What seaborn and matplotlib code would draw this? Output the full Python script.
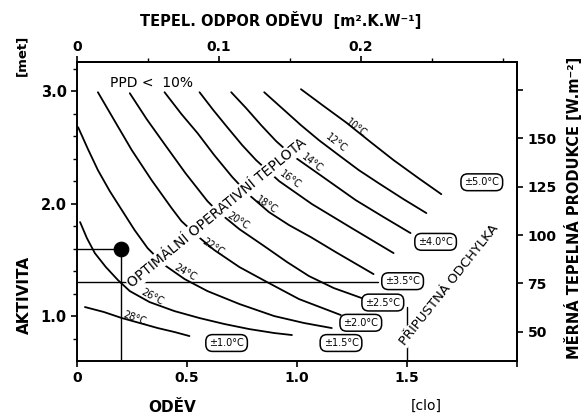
import matplotlib
matplotlib.use("Agg")
import matplotlib.pyplot as plt
from matplotlib.ticker import FixedLocator
import pandas as pd
import seaborn as sns

# ---- data (clothing [clo], activity [met]) ----
c10_clo = [1.018, 1.122, 1.222, 1.335, 1.439, 1.552, 1.656]
c10_met = [3.018, 2.867, 2.724, 2.547, 2.387, 2.227, 2.084]
c12_clo = [0.851, 0.932, 1.018, 1.100, 1.190, 1.281, 1.371, 1.484, 1.588]
c12_met = [2.991, 2.849, 2.698, 2.564, 2.431, 2.298, 2.182, 2.040, 1.916]
c14_clo = [0.701, 0.769, 0.837, 0.905, 0.977, 1.100, 1.267, 1.394, 1.516]
c14_met = [2.991, 2.849, 2.698, 2.556, 2.431, 2.262, 2.031, 1.880, 1.738]
c16_clo = [0.557, 0.620, 0.683, 0.751, 0.814, 0.919, 1.068, 1.249, 1.439]
c16_met = [2.991, 2.831, 2.680, 2.520, 2.387, 2.200, 1.996, 1.782, 1.560]
c18_clo = [0.398, 0.475, 0.548, 0.624, 0.706, 0.783, 0.873, 0.964, 1.063, 1.176, 1.348]
c18_met = [2.991, 2.796, 2.627, 2.431, 2.236, 2.076, 1.924, 1.809, 1.702, 1.569, 1.373]
c20_clo = [0.240, 0.317, 0.398, 0.493, 0.593, 0.638, 0.738, 0.851, 0.955, 1.054, 1.167, 1.294]
c20_met = [2.982, 2.751, 2.529, 2.271, 2.022, 1.933, 1.773, 1.622, 1.480, 1.356, 1.249, 1.160]
c22_clo = [0.095, 0.172, 0.249, 0.339, 0.430, 0.475, 0.548, 0.624, 0.738, 0.864, 1.009, 1.199]
c22_met = [2.991, 2.733, 2.476, 2.209, 1.960, 1.844, 1.711, 1.587, 1.436, 1.302, 1.151, 1.009]
c24_clo = [0.005, 0.050, 0.095, 0.149, 0.204, 0.262, 0.321, 0.398, 0.489, 0.593, 0.738,
           0.896, 1.032, 1.158]
c24_met = [2.680, 2.484, 2.298, 2.111, 1.942, 1.764, 1.604, 1.453, 1.329, 1.222, 1.107,
           1.000, 0.938, 0.893]
c26_clo = [0.014, 0.045, 0.081, 0.131, 0.186, 0.240, 0.330, 0.443, 0.557, 0.670, 0.783,
           0.896, 0.977]
c26_met = [1.836, 1.693, 1.560, 1.436, 1.320, 1.222, 1.124, 1.044, 0.982, 0.929, 0.884,
           0.849, 0.831]
c28_clo = [0.036, 0.122, 0.204, 0.285, 0.367, 0.443, 0.511]
c28_met = [1.080, 1.036, 0.982, 0.938, 0.893, 0.858, 0.822]

curve_temps = ["10", "12", "14", "16", "18", "20", "22", "24", "26", "28"]
curve_clo = [c10_clo, c12_clo, c14_clo, c16_clo, c18_clo, c20_clo, c22_clo, c24_clo, c26_clo, c28_clo]
curve_met = [c10_met, c12_met, c14_met, c16_met, c18_met, c20_met, c22_met, c24_met, c26_met, c28_met]

# curve label positions
label_clo = [1.27, 1.18, 1.07, 0.97, 0.86, 0.73, 0.62, 0.49, 0.34, 0.26]
label_met = [2.67, 2.54, 2.36, 2.21, 1.99, 1.85, 1.61, 1.39, 1.17, 0.98]
label_rot = [-38, -38, -38, -36, -33, -32, -33, -30, -28, -20]

# permissible deviation bubbles
tol_text = ["±1.0°C", "±1.5°C", "±2.0°C", "±2.5°C", "±3.5°C", "±4.0°C", "±5.0°C"]
tol_clo = [0.68, 1.20, 1.29, 1.39, 1.48, 1.63, 1.84]
tol_met = [0.76, 0.76, 0.94, 1.12, 1.31, 1.66, 2.19]

# example reading
point_clo = [0.2]
point_met = [1.6]
ref_met_line = 1.3
ref_clo_line = 1.5

x_ticks = [0, 0.5, 1.0, 1.5, 2.0]
x_ticklabels = ["0", "0.5", "1.0", "1.5", ""]
y_ticks = [1.0, 2.0, 3.0]
y_ticklabels = ["1.0", "2.0", "3.0"]
y_minor = [0.8, 1.2, 1.4, 1.6, 1.8, 2.2, 2.4, 2.6, 2.8, 3.2]
top_ticks = [0, 0.1, 0.2]
top_ticklabels = ["0", "0.1", "0.2"]
top_minor = [0.05, 0.15, 0.25, 0.3]
right_ticks = [50, 75, 100, 125, 150]
right_minor = [175]

CLO_TO_M2KW = 0.155
MET_TO_WM2 = 58.15

# ---- build table ----
rows = []
for t, xs, ys in zip(curve_temps, curve_clo, curve_met):
    for i, (x, y) in enumerate(zip(xs, ys)):
        rows.append({"curve": t, "order": i, "clo": x, "met": y})
df = pd.DataFrame(rows)

sns.set_theme(style="ticks", rc={
    "axes.edgecolor": "black", "axes.linewidth": 1.4,
    "text.color": "black", "axes.labelcolor": "black",
    "xtick.color": "black", "ytick.color": "black",
    "xtick.labelcolor": "black", "ytick.labelcolor": "black",
    "xtick.major.width": 1.2, "ytick.major.width": 1.2,
    "xtick.minor.width": 1.0, "ytick.minor.width": 1.0,
    "xtick.major.size": 4, "ytick.major.size": 4,
    "xtick.minor.size": 3, "ytick.minor.size": 3,
})
plt.rcParams["font.family"] = ["DejaVu Sans"]

fig = plt.figure(figsize=(5.85, 4.17), dpi=100)
fig.patch.set_facecolor("white")
ax = fig.add_axes([77 / 585, 1 - 361 / 417, 440 / 585, 299 / 417])

sns.lineplot(data=df, x="clo", y="met", units="curve", estimator=None, sort=False,
             color="black", lw=1.3, ax=ax, zorder=2)

# reference lines
ax.plot([0, point_clo[0]], [point_met[0], point_met[0]], color="black", lw=1.0, zorder=2)
ax.plot([point_clo[0], point_clo[0]], [0.6, point_met[0]], color="black", lw=1.0, zorder=2)
ax.plot([0, 1.37], [ref_met_line, ref_met_line], color="black", lw=1.0, zorder=2)
ax.plot([ref_clo_line, ref_clo_line], [0.6, 1.08], color="black", lw=1.0, zorder=2)
sns.scatterplot(x=point_clo, y=point_met, s=110, color="black", edgecolor="black", ax=ax, zorder=5)

# curve labels
for t, x, y, r in zip(curve_temps, label_clo, label_met, label_rot):
    ax.text(x, y, f"{t}°C", rotation=r, rotation_mode="anchor", ha="center", va="center",
            fontsize=7, zorder=4)

# tolerance bubbles
for s, x, y in zip(tol_text, tol_clo, tol_met):
    ax.text(x, y, s, ha="center", va="center", fontsize=7, zorder=6,
            bbox=dict(boxstyle="round,pad=0.35,rounding_size=0.7", fc="white", ec="black", lw=1.1))

# diagonal texts
ax.text(0.638, 1.92, "OPTIMÁLNÍ OPERATIVNÍ TEPLOTA", rotation=39.4, rotation_mode="anchor",
        ha="center", va="center", fontsize=10, zorder=4,
        bbox=dict(fc="white", ec="none", pad=1.0))
ax.text(1.69, 1.28, "PŘÍPUSTNÁ ODCHYLKA", rotation=51.5, rotation_mode="anchor",
        ha="center", va="center", fontsize=9.5, zorder=4,
        bbox=dict(fc="white", ec="none", pad=0.5))
ax.text(0.34, 3.07, "PPD <  10%", ha="center", va="center", fontsize=10)

ax.set_xlim(0, 1.99)
ax.set_ylim(0.6, 3.26)
ax.set_xlabel("")
ax.set_ylabel("")
ax.set_xticks(x_ticks)
ax.set_xticklabels(x_ticklabels, fontsize=10, fontweight="bold")
ax.set_yticks(y_ticks)
ax.set_yticklabels(y_ticklabels, fontsize=10.5, fontweight="bold")
ax.yaxis.set_minor_locator(FixedLocator(y_minor))
for s in ax.spines.values():
    s.set_visible(True)
    s.set_linewidth(1.4)
    s.set_color("black")

secx = ax.secondary_xaxis("top", functions=(lambda c: c * CLO_TO_M2KW, lambda r: r / CLO_TO_M2KW))
secx.set_xticks(top_ticks)
secx.set_xticklabels(top_ticklabels, fontsize=10, fontweight="bold")
secx.xaxis.set_minor_locator(FixedLocator(top_minor))
secx.tick_params(which="major", length=4, width=1.2, pad=2)
secx.tick_params(which="minor", length=3, width=1.0)

secy = ax.secondary_yaxis("right", functions=(lambda m: m * MET_TO_WM2, lambda w: w / MET_TO_WM2))
secy.set_yticks(right_ticks)
secy.set_yticklabels([str(v) for v in right_ticks], fontsize=10, fontweight="bold")
secy.yaxis.set_minor_locator(FixedLocator(right_minor))
secy.tick_params(which="major", length=4, width=1.2)
secy.tick_params(which="minor", length=4, width=1.2)

# axis titles
fig.text(281 / 585, 1 - 20 / 417, "TEPEL. ODPOR ODĚVU  [m².K.W⁻¹]", ha="center", va="center",
         fontsize=10.5, fontweight="bold")
fig.text(24 / 585, 1 - 295 / 417, "AKTIVITA", rotation=90, ha="center", va="center",
         fontsize=11, fontweight="bold")
fig.text(22 / 585, 1 - 55 / 417, "[met]", rotation=90, ha="center", va="center",
         fontsize=9.5, fontweight="bold")
fig.text(172 / 585, 1 - 408 / 417, "ODĚV", ha="center", va="center", fontsize=11, fontweight="bold")
fig.text(426 / 585, 1 - 406 / 417, "[clo]", ha="center", va="center", fontsize=10)
fig.text(573 / 585, 1 - 208 / 417, "MĚRNÁ TEPELNÁ PRODUKCE [W.m⁻²]", rotation=90,
         ha="center", va="center", fontsize=10.5, fontweight="bold")

fig.savefig("out.png", dpi=100, facecolor="white")
